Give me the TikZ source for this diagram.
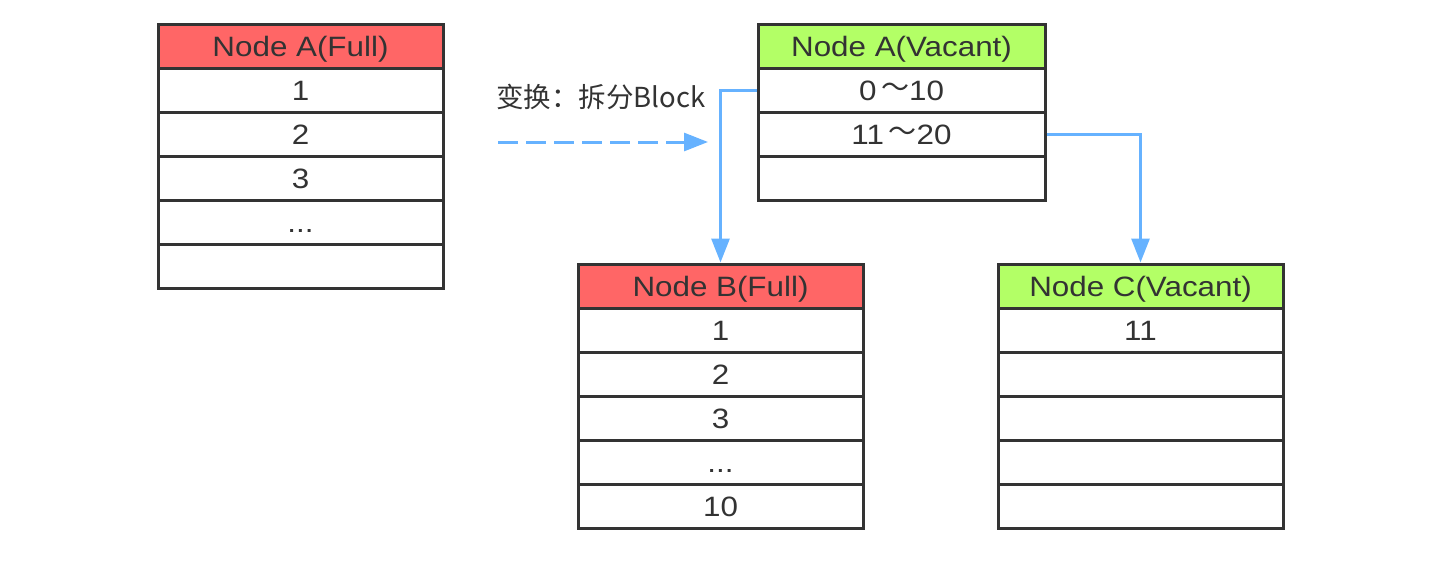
\documentclass[tikz,border=0pt]{standalone}
\usepackage{fontspec}
\setmainfont{Liberation Sans}[FakeStretch=1.12]
\newfontfamily\cjk{Noto Sans CJK SC}
\usetikzlibrary{arrows.meta}
\definecolor{linec}{HTML}{333333}
\definecolor{fullc}{HTML}{FF6666}
\definecolor{vacc}{HTML}{B3FF66}
\definecolor{flowc}{HTML}{66B2FF}
\tikzset{
  cell/.style={draw=linec, line width=3pt, minimum width=285pt, minimum height=44pt,
    inner sep=0pt, fill=white, text=linec, font=\fontsize{28}{32}\selectfont,
    text height=20pt, text depth=0pt},
  widecell/.style={cell, minimum width=287pt},
  fullhead/.style={fill=fullc},
  vachead/.style={fill=vacc},
  flow/.style={draw=flowc, line width=3pt, -{Triangle[length=24pt,width=18pt]}},
  dflow/.style={flow, dash pattern=on 20pt off 8pt},
}
\begin{document}
\begin{tikzpicture}[x=1pt,y=-1pt]
\useasboundingbox (0,0) rectangle (1434,560);
% Node A (Full)
\node[cell,fullhead] (Ah) at (300.5,46) {Node A(Full)};
\node[cell] (A1) at (300.5,90) {1};
\node[cell] (A2) at (300.5,134) {2};
\node[cell] (A3) at (300.5,178) {3};
\node[cell] (A4) at (300.5,222) {...};
\node[cell] (A5) at (300.5,266) {};
% Node A (Vacant)
\node[widecell,vachead] (Vh) at (901.5,46) {Node A(Vacant)};
\node[widecell] (V1) at (901.5,90) {0\,\raisebox{0.15ex}{\cjk ～}10};
\node[widecell] (V2) at (901.5,134) {11\,\raisebox{0.15ex}{\cjk ～}20};
\node[widecell] (V3) at (901.5,178) {};
% Node B (Full)
\node[cell,fullhead] (Bh) at (720.5,286) {Node B(Full)};
\node[cell] (B1) at (720.5,330) {1};
\node[cell] (B2) at (720.5,374) {2};
\node[cell] (B3) at (720.5,418) {3};
\node[cell] (B4) at (720.5,462) {...};
\node[cell] (B5) at (720.5,506) {10};
% Node C (Vacant)
\node[cell,vachead] (Ch) at (1140.5,286) {Node C(Vacant)};
\node[cell] (C1) at (1140.5,330) {11};
\node[cell] (C2) at (1140.5,374) {};
\node[cell] (C3) at (1140.5,418) {};
\node[cell] (C4) at (1140.5,462) {};
\node[cell] (C5) at (1140.5,506) {};
% label and dashed arrow
\node[text=linec, font=\cjk\fontsize{27.5}{30}\selectfont, anchor=west, inner sep=0pt] (lbl) at (496,97) {变换：拆分Block};
\coordinate (ds) at (498,142);
\coordinate (de) at (708,142);
\draw[dflow] (ds) -- (de);
% connectors
\draw[flow] (V1.west) -| (Bh.north);
\draw[flow] (V2.east) -| (Ch.north);
\end{tikzpicture}
\end{document}
